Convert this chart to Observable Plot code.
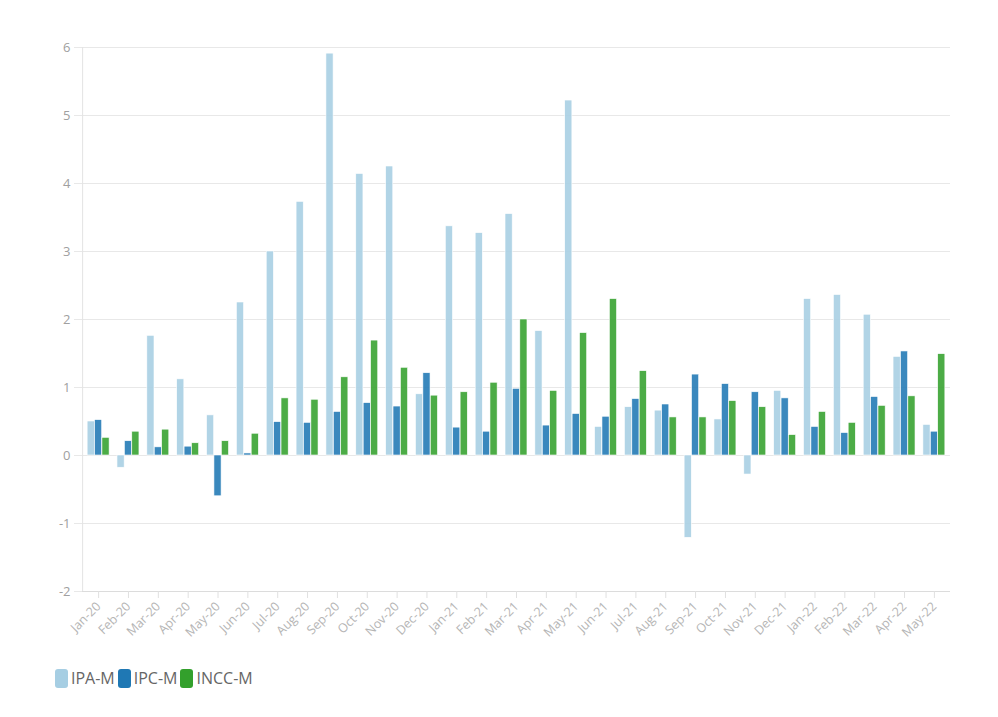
<!DOCTYPE html>
<html><head><meta charset="utf-8">
<script src="https://cdn.jsdelivr.net/npm/d3@7"></script>
<script src="https://cdn.jsdelivr.net/npm/@observablehq/plot@0.6"></script>
<style>
body{margin:0;background:#fff;font-family:"Open Sans",sans-serif;}
#wrap{position:relative;width:998px;height:717px;}
#legend{position:absolute;left:55px;top:667px;display:flex;align-items:center;font-size:16px;color:#666;}
#legend .sw{width:13px;height:19px;border-radius:3px;margin-right:3px;display:inline-block}
#legend .it{display:flex;align-items:center;margin-right:3px}
</style></head>
<body><div id="wrap"><div id="chart"></div><div id="legend"></div></div>
<script>
const months = ["Jan-20","Feb-20","Mar-20","Apr-20","May-20","Jun-20","Jul-20","Aug-20","Sep-20","Oct-20","Nov-20","Dec-20",
  "Jan-21","Feb-21","Mar-21","Apr-21","May-21","Jun-21","Jul-21","Aug-21","Sep-21","Oct-21","Nov-21","Dec-21",
  "Jan-22","Feb-22","Mar-22","Apr-22","May-22"];
const ipaM  = [0.50,-0.18,1.76,1.12,0.59,2.25,3.00,3.73,5.91,4.14,4.25,0.90,3.37,3.27,3.55,1.83,5.22,0.42,0.71,0.66,-1.21,0.53,-0.28,0.95,2.30,2.36,2.07,1.45,0.45];
const ipcM  = [0.52,0.21,0.12,0.13,-0.60,0.03,0.49,0.48,0.64,0.77,0.72,1.21,0.41,0.35,0.98,0.44,0.61,0.57,0.83,0.75,1.19,1.05,0.93,0.84,0.42,0.33,0.86,1.53,0.35];
const inccM = [0.26,0.35,0.38,0.18,0.21,0.32,0.84,0.82,1.15,1.69,1.29,0.88,0.93,1.07,2.00,0.95,1.80,2.30,1.24,0.56,0.56,0.80,0.71,0.30,0.64,0.48,0.73,0.87,1.49];
const seriesNames = ["IPA-M","IPC-M","INCC-M"];
const seriesColors = ["#a6cee3","#1f78b4","#33a02c"];
const yTicks = [-2,-1,0,1,2,3,4,5,6];

const allSeries = [ipaM, ipcM, inccM];
const rows = allSeries.map((vals, k) => months.map((m, i) => ({month: m, value: vals[i], series: seriesNames[k]})));

const barOpts = (k) => ({x: "month", y: "value", fill: seriesColors[k], fillOpacity: 0.88, stroke: "white", strokeWidth: 0.6, dx: (k - 1) * 7.4});

const chart = Plot.plot({
  width: 998, height: 650,
  marginLeft: 82, marginRight: 48, marginTop: 47, marginBottom: 59,
  style: {fontFamily: "'Open Sans', sans-serif", color: "#9a9a9a", background: "white"},
  x: {domain: months, paddingInner: 0.76, paddingOuter: 0.42, round: false, label: null},
  y: {domain: [-2, 6], label: null},
  marks: [
    Plot.gridY(yTicks, {stroke: "#e8e8e8", strokeOpacity: 1}),
    Plot.ruleY([-2], {stroke: "#dcdcdc"}),
    Plot.ruleX([months[0]], {y1: -2, y2: 6, dx: -16, stroke: "#e3e3e3"}),
    Plot.axisX({tickRotate: -45, tickSize: 7, stroke: "#e0e0e0", fontSize: 12.5, fill: "#b5b5b5"}),
    Plot.axisY({ticks: yTicks, tickSize: 8, tickPadding: 4, stroke: "#e8e8e8", fontSize: 13, fill: "#a0a0a0", tickFormat: d => String(d)}),
    ...rows.map((r, k) => Plot.barY(r, barOpts(k)))
  ]
});
document.getElementById("chart").appendChild(chart);

const leg = document.getElementById("legend");
seriesNames.forEach((n, k) => {
  const it = document.createElement("span"); it.className = "it";
  const sw = document.createElement("span"); sw.className = "sw"; sw.style.background = seriesColors[k];
  const tx = document.createElement("span"); tx.textContent = n;
  it.appendChild(sw); it.appendChild(tx); leg.appendChild(it);
});
</script></body></html>
